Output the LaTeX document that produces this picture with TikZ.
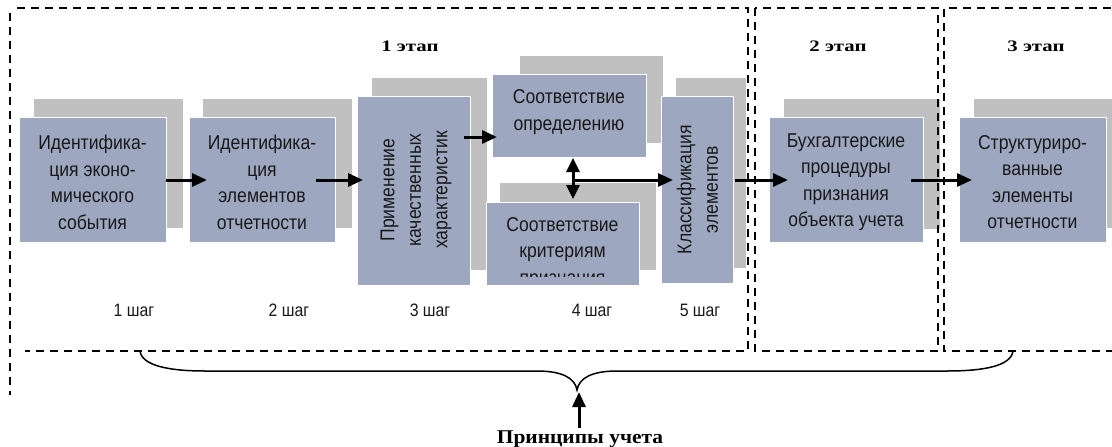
\documentclass[tikz,border=0pt]{standalone}
\usepackage{fontspec}
\setmainfont{Liberation Serif}
\newfontfamily\boxfont[FakeStretch=0.88]{Liberation Sans}
\newfontfamily\stagefont[FakeStretch=1.3]{Liberation Serif}
\newfontfamily\notefont[FakeStretch=1.1]{Liberation Serif}
\usetikzlibrary{arrows.meta}
\definecolor{boxblue}{RGB}{157,168,192}
\definecolor{shadowgray}{RGB}{192,192,192}
\definecolor{inktext}{RGB}{25,25,25}
\tikzset{
  shadowrect/.style={fill=shadowgray},
  panel/.style={rectangle, fill=boxblue, draw=white, line width=0.8pt, inner sep=0pt},
  boxtext/.style={font=\boxfont\fontsize{20}{26.5}\selectfont, text=inktext, align=center, inner sep=0pt},
  steplabel/.style={font=\boxfont\fontsize{18}{20}\selectfont, text=inktext, inner sep=0pt},
  stagelabel/.style={font=\stagefont\bfseries\fontsize{16}{18}\selectfont, inner sep=0pt},
  frameline/.style={dash pattern=on 8pt off 6pt, line width=1.8pt},
  flow/.style={-{Triangle[length=15pt,width=13pt]}, line width=3pt},
  twoway/.style={{Triangle[length=14pt,width=13pt]}-{Triangle[length=14pt,width=13pt]}, line width=3pt},
}
\begin{document}
\begin{tikzpicture}[x=1pt,y=-1pt]
\useasboundingbox (0,0) rectangle (1112,447);
\begin{scope}
\clip (0,0) rectangle (1112,447);

% shadows behind the panels
\fill[shadowrect] (34,99) rectangle (183,228);
\fill[shadowrect] (203,99) rectangle (352,228);
\fill[shadowrect] (372,78) rectangle (487,270);
\fill[shadowrect] (520,56) rectangle (663,143);
\fill[shadowrect] (500,183) rectangle (656,270);
\fill[shadowrect] (676,78) rectangle (746,268);
\fill[shadowrect] (784,99) rectangle (940,229);
\fill[shadowrect] (974,99) rectangle (1125,228);

% panels
\node[panel, minimum width=147pt, minimum height=125pt] (b1) at (92.5,179.5) {};
\node[panel, minimum width=146pt, minimum height=125pt] (b2) at (262,179.5) {};
\node[panel, minimum width=113pt, minimum height=189pt] (b3) at (413.5,190.5) {};
\node[panel, minimum width=154pt, minimum height=83pt] (b4a) at (569,115.5) {};
\node[panel, minimum width=153pt, minimum height=83pt] (b4b) at (562.5,243.5) {};
\node[panel, minimum width=72pt, minimum height=187pt] (b5) at (697,189.5) {};
\node[panel, minimum width=154pt, minimum height=125pt] (b6) at (846,179.5) {};
\node[panel, minimum width=147pt, minimum height=125pt] (b7) at (1032.5,179.5) {};

% panel texts
\node[boxtext] (t1) at (92.5,182.5) {Идентифика-\\ция эконо-\\мического\\события};
\node[boxtext] (t2) at (262,182.5) {Идентифика-\\ция\\элементов\\отчетности};
\node[boxtext, rotate=90] (t3) at (416,190) {Применение\\качественных\\характеристик};
\node[boxtext] (t4a) at (569,112) {Соответствие\\определению};
\begin{scope}
  \clip (486,202) rectangle (639,276);
  \node[boxtext] (t4b) at (562.5,253) {Соответствие\\критериям\\признания};
\end{scope}
\node[boxtext, rotate=90] (t5) at (697.5,189.5) {Классификация\\элементов};
\node[boxtext] (t6) at (846,182) {Бухгалтерские\\процедуры\\признания\\объекта учета};
\node[boxtext] (t7) at (1032.5,182) {Структуриро-\\ванные\\элементы\\отчетности};

% stage frames
\draw[frameline] (10,13) -- (10,395);
\draw[frameline] (17,8) -- (748,8) -- (748,351) -- (25,351);
\draw[frameline] (755,8) rectangle (938,351);
\draw[frameline] (1125,8) -- (944,8) -- (944,351) -- (1125,351);

% stage and step captions
\node[stagelabel] (s1) at (410,46) {1 этап};
\node[stagelabel] (s2) at (838,46) {2 этап};
\node[stagelabel] (s3) at (1036,46) {3 этап};
\node[steplabel] (k1) at (134,310) {1 шаг};
\node[steplabel] (k2) at (289,310) {2 шаг};
\node[steplabel] (k3) at (430,310) {3 шаг};
\node[steplabel] (k4) at (592,310) {4 шаг};
\node[steplabel] (k5) at (700,310) {5 шаг};

% flow arrows
\coordinate (e1) at (207,180);
\coordinate (s2a) at (316,180);
\coordinate (e2) at (363,180);
\coordinate (s3a) at (464,137);
\coordinate (e3) at (497,137);
\coordinate (v1) at (573,158);
\coordinate (v2) at (573,199);
\coordinate (h1) at (573,180);
\coordinate (h2) at (673,180);
\coordinate (s6) at (735,180);
\coordinate (e6) at (788,180);
\coordinate (s7) at (911,180);
\coordinate (e7) at (972,180);
\draw[flow] (b1.east |- e1) -- (e1);
\draw[flow] (s2a) -- (e2);
\draw[flow] (s3a) -- (e3);
\draw[twoway] (v1) -- (v2);
\draw[flow] (h1) -- (h2);
\draw[flow] (s6) -- (e6);
\draw[flow] (s7) -- (e7);

% brace collecting all stages
\coordinate (brL) at (140,351);
\coordinate (brR) at (1013,351);
\coordinate (brTip) at (577,390);
\draw[line width=1.5pt] (brL) .. controls (142,366) and (170,371) .. (205,371)
  -- (537,371) .. controls (562,371) and (575,378) .. (brTip)
  .. controls (579,378) and (592,371) .. (617,371)
  -- (947,371) .. controls (984,371) and (1011,366) .. (brR);

% accounting principles
\node[font=\notefont\bfseries\fontsize{19.5}{21}\selectfont, anchor=base, inner sep=0pt] (pr) at (580,443) {Принципы учета};
\coordinate (prTop) at (579,428);
\coordinate (prTip) at (579,392);
\draw[flow] (prTop) -- (prTip);
\end{scope}
\end{tikzpicture}
\end{document}
